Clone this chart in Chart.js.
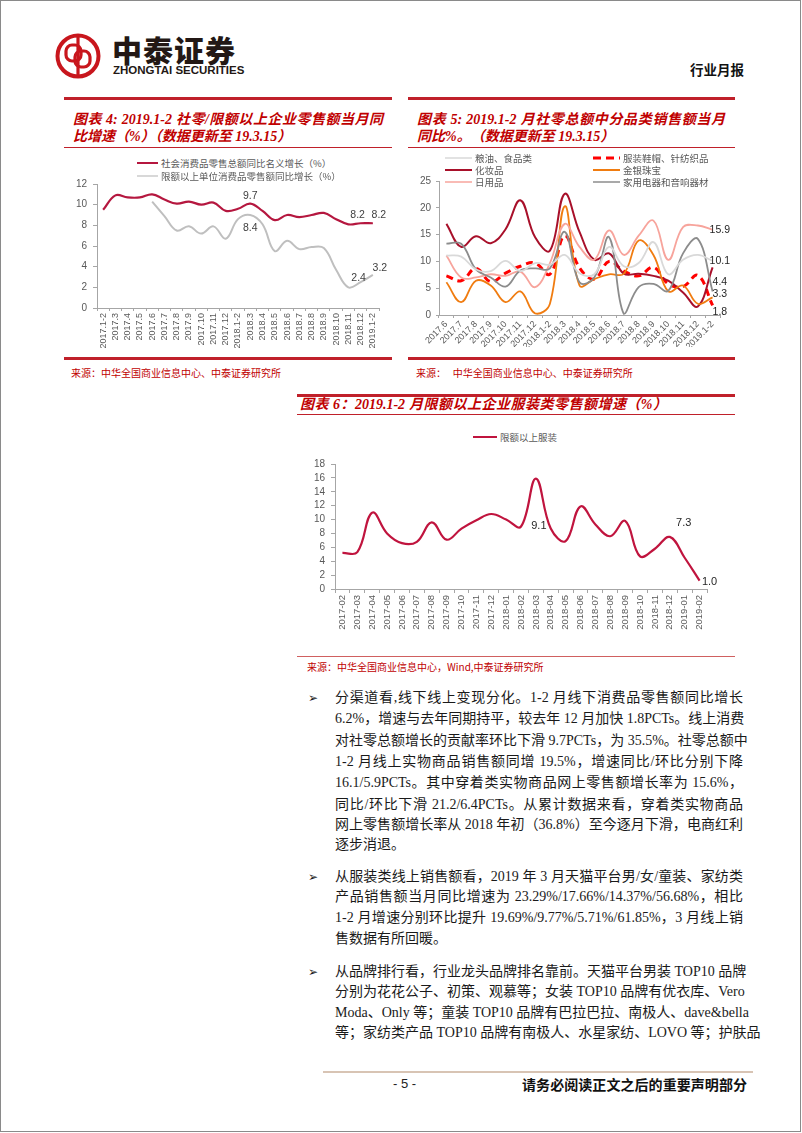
<!DOCTYPE html>
<html>
<head>
<meta charset="utf-8">
<script src="https://cdn.jsdelivr.net/npm/chart.js@4.4.1/dist/chart.umd.min.js"></script>
<style>
body { margin: 0; background: #fff; }
#page { position: relative; width: 802px; height: 1133px; overflow: hidden; background: #fff;
  font-family: "Liberation Serif", "Noto Sans CJK SC", serif; }
.frame { position: absolute; left: 0; top: 0; width: 801px; height: 1132px; box-sizing: border-box; border: 1px solid #8a8a8a; }
.rule { position: absolute; background: #C0202A; }
.title { position: absolute; color: #C00000; font-style: italic; font-weight: bold; font-size: 14px;
  line-height: 18px; height: 18px; text-align: justify; text-align-last: justify; white-space: nowrap; }
.src { position: absolute; color: #C00000; font-size: 10px; line-height: 14px; white-space: nowrap;
  font-family: "Noto Sans CJK SC", sans-serif; }
.leg { position: absolute; height: 14px; display: flex; align-items: center; white-space: nowrap;
  font-family: "Noto Sans CJK SC", sans-serif; font-size: 9.5px; color: #595959; }
.leg svg { margin-right: 3px; }
.line { position: absolute; left: 335px; width: 408px; font-size: 14px; line-height: 20px; height: 20px;
  color: #1a1a1a; text-align: justify; text-align-last: justify; white-space: nowrap; }
.line.last { text-align-last: left; }
.bullet { position: absolute; left: 308px; font-family: "DejaVu Sans", sans-serif; font-size: 12px; line-height: 20px; color: #1a1a1a; }
canvas { position: absolute; }
</style>
</head>
<body>
<div id="page">
  <div class="frame"></div>

  <!-- header -->
  <svg style="position:absolute;left:54px;top:32px" width="50" height="50" viewBox="0 0 50 50">
    <circle cx="24" cy="24" r="20.5" fill="none" stroke="#C8161D" stroke-width="4"/>
    <rect x="12" y="13" width="15" height="16" rx="6" fill="none" stroke="#C8161D" stroke-width="3.2"/>
    <rect x="21" y="19" width="15" height="16" rx="6" fill="none" stroke="#C8161D" stroke-width="3.2"/>
    <line x1="24" y1="5" x2="24" y2="43" stroke="#C8161D" stroke-width="3.2"/>
  </svg>
  <div style="position:absolute;left:112px;top:31px;font-family:'Noto Sans CJK SC';font-weight:900;font-size:30px;line-height:36px;letter-spacing:1px;color:#231815;">中泰证券</div>
  <div style="position:absolute;left:113px;top:64px;font-family:'Liberation Sans Narrow','Liberation Sans';font-weight:bold;font-size:11.5px;line-height:13px;color:#231815;">ZHONGTAI SECURITIES</div>
  <div style="position:absolute;left:690px;top:60px;font-family:'Noto Sans CJK SC';font-weight:bold;font-size:13.5px;line-height:18px;color:#111;">行业月报</div>

  <!-- chart 4 frame -->
  <div class="rule" style="left:64px;top:97px;width:328px;height:3px"></div>
  <div class="title" style="left:73px;top:111px;width:310px">图表 4: 2019.1-2 社零/限额以上企业零售额当月同</div>
  <div class="title" style="left:73px;top:128px;width:217px">比增速（%）（数据更新至 19.3.15）</div>
  <div class="rule" style="left:64px;top:147px;width:328px;height:1px"></div>
  <div class="rule" style="left:64px;top:357px;width:328px;height:3px"></div>
  <div class="src" style="left:71px;top:366px">来源：中华全国商业信息中心、中泰证券研究所</div>

  <!-- chart 5 frame -->
  <div class="rule" style="left:408px;top:97px;width:327px;height:3px"></div>
  <div class="title" style="left:417px;top:111px;width:308px">图表 5: 2019.1-2 月社零总额中分品类销售额当月</div>
  <div class="title" style="left:417px;top:128px;width:186px">同比%。（数据更新至 19.3.15）</div>
  <div class="rule" style="left:408px;top:147px;width:327px;height:1px"></div>
  <div class="rule" style="left:408px;top:357px;width:327px;height:3px"></div>
  <div class="src" style="left:416px;top:366px">来源：&nbsp;&nbsp;&nbsp;中华全国商业信息中心、中泰证券研究所</div>

  <!-- chart 6 frame -->
  <div class="rule" style="left:297px;top:394px;width:438px;height:2.5px"></div>
  <div class="title" style="left:300px;top:396px;width:367px">图表 6：2019.1-2 月限额以上企业服装类零售额增速（%）</div>
  <div class="rule" style="left:297px;top:414px;width:438px;height:1px"></div>
  <div class="rule" style="left:297px;top:656px;width:438px;height:1px;background:#D06060"></div>
  <div class="src" style="left:307px;top:660px">来源：中华全国商业信息中心，Wind,中泰证券研究所</div>

  <canvas id="c4" width="328" height="178" style="left:64px;top:172px"></canvas>
  <canvas id="c5" width="327" height="177" style="left:408px;top:170px"></canvas>
  <canvas id="c6" width="438" height="183" style="left:297px;top:452px"></canvas>

  <div id="legends"></div>

  <!-- body text -->
  <div class="bullet" style="top:688px">➢</div>
  <div class="line" style="top:688px">分渠道看,线下线上变现分化。1-2 月线下消费品零售额同比增长</div>
  <div class="line" style="top:709px">6.2%，增速与去年同期持平，较去年 12 月加快 1.8PCTs。线上消费</div>
  <div class="line" style="top:731px">对社零总额增长的贡献率环比下滑 9.7PCTs，为 35.5%。社零总额中</div>
  <div class="line" style="top:752px">1-2 月线上实物商品销售额同增 19.5%，增速同比/环比分别下降</div>
  <div class="line" style="top:773px">16.1/5.9PCTs。其中穿着类实物商品网上零售额增长率为 15.6%，</div>
  <div class="line" style="top:795px">同比/环比下滑 21.2/6.4PCTs。从累计数据来看，穿着类实物商品</div>
  <div class="line" style="top:815px">网上零售额增长率从 2018 年初（36.8%）至今逐月下滑，电商红利</div>
  <div class="line last" style="top:835px">逐步消退。</div>

  <div class="bullet" style="top:867px">➢</div>
  <div class="line" style="top:867px">从服装类线上销售额看，2019 年 3 月天猫平台男/女/童装、家纺类</div>
  <div class="line" style="top:887px">产品销售额当月同比增速为 23.29%/17.66%/14.37%/56.68%，相比</div>
  <div class="line" style="top:908px">1-2 月增速分别环比提升 19.69%/9.77%/5.71%/61.85%，3 月线上销</div>
  <div class="line last" style="top:929px">售数据有所回暖。</div>

  <div class="bullet" style="top:962px">➢</div>
  <div class="line" style="top:962px">从品牌排行看，行业龙头品牌排名靠前。天猫平台男装 TOP10 品牌</div>
  <div class="line" style="top:982px">分别为花花公子、初策、观慕等；女装 TOP10 品牌有优衣库、Vero</div>
  <div class="line" style="top:1003px">Moda、Only 等；童装 TOP10 品牌有巴拉巴拉、南极人、dave&amp;bella</div>
  <div class="line" style="top:1023px">等；家纺类产品 TOP10 品牌有南极人、水星家纺、LOVO 等；护肤品</div>

  <!-- footer -->
  <div style="position:absolute;left:323px;top:1071px;width:430px;height:1.5px;background:#D8C4B4"></div>
  <div style="position:absolute;left:393px;top:1076px;font-family:'Liberation Sans';font-size:13px;line-height:16px;color:#222">- 5 -</div>
  <div style="position:absolute;left:522px;top:1075px;width:225px;font-family:'Noto Sans CJK SC';font-weight:bold;font-size:14px;line-height:18px;color:#111;text-align:justify;text-align-last:justify;white-space:nowrap">请务必阅读正文之后的重要声明部分</div>
</div>

<script>
Chart.defaults.font.family = "'Liberation Sans', Arial, sans-serif";
Chart.defaults.animation = false;

// ---- 图表4 data ----
const c4Labels = ['2017.1-2','2017.3','2017.4','2017.5','2017.6','2017.7','2017.8','2017.9','2017.10','2017.11','2017.12',
  '2018.1-2','2018.3','2018.4','2018.5','2018.6','2018.7','2018.8','2018.9','2018.10','2018.11','2018.12','2019.1-2'];
const c4Names = ['社会消费品零售总额同比名义增长（%）', '限额以上单位消费品零售额同比增长（%）'];
const c4Total = [9.5,10.9,10.7,10.7,11.0,10.5,10.1,10.3,10.0,10.2,9.4,9.6,10.1,9.4,8.5,9.0,8.8,9.0,9.2,8.6,8.1,8.2,8.2];
const c4Above = [null,null,null,null,10.3,8.9,7.5,7.9,7.2,7.9,6.7,8.6,9.0,8.1,5.5,6.5,5.7,5.9,5.8,3.7,2.0,2.5,3.2];
const c4TagIdx = [12, 21, 22, 12, 21, 22];
const c4TagText = ['9.7', '8.2', '8.2', '8.4', '2.4', '3.2'];

// ---- 图表5 data ----
const c5Labels = ['2017.6','2017.7','2017.8','2017.9','2017.10','2017.11','2017.12','2018.1-2','2018.3','2018.4',
  '2018.5','2018.6','2018.7','2018.8','2018.9','2018.10','2018.11','2018.12','2019.1-2'];
const c5Names = ['粮油、食品类','服装鞋帽、针纺织品','化妆品','金银珠宝','日用品','家用电器和音响器材'];
const c5Food     = [11.1,10.9,8.5,8.2,10.1,8.2,9.7,9.4,11.2,7.8,7.6,12.7,9.1,9.7,13.6,7.6,10.3,11.2,10.1];
const c5Clothing = [7.3,6.4,8.7,6.2,7.8,9.1,9.7,7.6,14.8,8.8,6.7,10.0,8.2,7.3,8.9,5.8,5.3,7.4,1.8];
const c5Cosmetic = [17.0,12.7,14.7,13.4,16.0,21.4,14.5,12.0,22.6,15.5,10.3,11.5,7.7,7.7,7.3,6.4,4.2,1.6,8.9];
const c5Jewelry  = [6.1,2.4,6.4,5.5,2.4,4.4,0.3,2.1,20.3,5.5,6.7,7.6,7.7,13.9,11.2,4.4,5.5,2.1,3.3];
const c5Daily    = [11.1,7.0,7.0,7.6,7.3,8.1,5.2,9.7,17.0,12.7,10.3,15.8,11.2,14.8,17.6,10.3,16.4,16.7,15.9];
const c5Appliance= [13.3,13.3,8.5,7.0,5.3,8.3,8.7,8.7,15.5,6.1,7.0,14.5,0.2,5.2,5.8,4.5,11.5,14.2,4.4];
const c5TagIdx = [18, 18, 18, 18, 18];
const c5TagText = ['15.9', '10.1', '4.4', '3.3', '1.8'];

// ---- 图表6 data ----
const c6Labels = ['2017-02','2017-03','2017-04','2017-05','2017-06','2017-07','2017-08','2017-09','2017-10','2017-11','2017-12',
  '2018-01','2018-02','2018-03','2018-04','2018-05','2018-06','2018-07','2018-08','2018-09','2018-10','2018-11','2018-12',
  '2019-01','2019-02'];
const c6Name = '限额以上服装';
const c6Values = [5.2,5.3,11.0,8.0,6.6,6.8,9.6,7.1,8.7,9.9,10.8,10.0,9.0,15.9,8.7,6.9,11.9,9.3,7.6,9.8,4.7,5.8,7.5,4.5,1.2];
const c6TagIdx = [13, 23, 24];
const c6TagText = ['9.1', '7.3', '1.0'];

// labels are placed at the height of the number they show, nudged by dx/dy
const valueTags = {
  id: 'valueTags',
  afterDatasetsDraw(chart, args, opts) {
    const ctx = chart.ctx, xs = chart.scales.x, ys = chart.scales.y;
    ctx.save();
    ctx.font = opts.font;
    ctx.fillStyle = opts.color;
    ctx.textBaseline = 'middle';
    ctx.textAlign = opts.align || 'center';
    opts.idx.forEach((i, k) => {
      const x = xs.getPixelForValue(i) + opts.nudge[k][0];
      const y = ys.getPixelForValue(parseFloat(opts.text[k])) + opts.nudge[k][1];
      ctx.fillText(opts.text[k], x, y);
    });
    ctx.restore();
  }
};

function axisX(rot, h, size, tick, pad) {
  return {
    type: 'category', offset: true,
    grid: { drawOnChartArea: false, drawTicks: true, tickLength: tick, color: '#A6A6A6', offset: true },
    border: { color: '#A6A6A6' },
    ticks: { autoSkip: false, minRotation: rot, maxRotation: rot, color: '#595959', font: { size: size }, padding: pad },
    afterFit: s => { s.height = h; }
  };
}
function axisY(max, step, w, size, tick, pad) {
  return {
    min: 0, max: max,
    grid: { drawOnChartArea: false, drawTicks: true, tickLength: tick, color: '#A6A6A6' },
    border: { color: '#A6A6A6' },
    ticks: { stepSize: step, autoSkip: false, color: '#595959', font: { size: size }, padding: pad },
    afterFit: s => { s.width = w; }
  };
}

function lineSet(label, data, color, width, dash) {
  return { label: label, data: data, borderColor: color, backgroundColor: color, borderWidth: width,
    borderDash: dash || [], tension: 0.4, pointRadius: 0, fill: false, spanGaps: false };
}

// legends as page text
const legendBox = document.getElementById('legends');
function legend(x, y, w, text, color, width, dash) {
  const d = document.createElement('div');
  d.className = 'leg';
  d.style.left = x + 'px';
  d.style.top = (y - 7) + 'px';
  d.innerHTML = '<svg width="' + w + '" height="14"><line x1="0" y1="7" x2="' + w + '" y2="7" stroke="' + color +
    '" stroke-width="' + width + '"' + (dash ? ' stroke-dasharray="' + dash + '"' : '') + '/></svg><span>' + text + '</span>';
  legendBox.appendChild(d);
}

// 图表4
const c4Colors = ['#B5173F', '#BFBFBF'];
new Chart(document.getElementById('c4'), {
  type: 'line',
  data: { labels: c4Labels, datasets: [
    lineSet(c4Names[0], c4Total, c4Colors[0], 2.2),
    lineSet(c4Names[1], c4Above, c4Colors[1], 2)
  ]},
  options: {
    responsive: false,
    layout: { padding: { top: 8, right: 13, left: 0, bottom: 0 } },
    plugins: { legend: { display: false }, tooltip: { enabled: false },
      valueTags: { idx: c4TagIdx, text: c4TagText, font: "10.5px 'Liberation Sans'", color: '#404040',
        nudge: [[0,-12],[-3,-8],[6,-8],[0,7],[-2,-5],[7,-7]] } },
    scales: { x: axisX(90, 42, 9, 3, 2), y: axisY(12, 2, 33, 10, 4, 6) }
  },
  plugins: [valueTags]
});
legend(137, 163, 21, c4Names[0], c4Colors[0], 2);
legend(137, 176, 21, c4Names[1], c4Colors[1], 1.2);

// 图表5
const c5Colors = ['#D9D9D9', '#FF0000', '#A8102A', '#F07C10', '#F7A49C', '#8C8C8C'];
new Chart(document.getElementById('c5'), {
  type: 'line',
  data: { labels: c5Labels, datasets: [
    lineSet(c5Names[0], c5Food, c5Colors[0], 1.8),
    lineSet(c5Names[5], c5Appliance, c5Colors[5], 1.8),
    lineSet(c5Names[4], c5Daily, c5Colors[4], 1.8),
    lineSet(c5Names[3], c5Jewelry, c5Colors[3], 1.8),
    lineSet(c5Names[2], c5Cosmetic, c5Colors[2], 2),
    lineSet(c5Names[1], c5Clothing, c5Colors[1], 3, [7, 5])
  ]},
  options: {
    responsive: false,
    layout: { padding: { top: 7.5, right: 15, left: 0, bottom: 0 } },
    plugins: { legend: { display: false }, tooltip: { enabled: false },
      valueTags: { idx: c5TagIdx, text: c5TagText, font: "10.5px 'Liberation Sans'", color: '#262626', align: 'left',
        nudge: [[-3,0],[-3,0],[0,-9],[0,-3],[0,7]] } },
    scales: { x: axisX(45, 32, 9, 3, 1), y: axisY(25, 5, 31, 10, 3, 5) }
  },
  plugins: [valueTags]
});
legend(445, 158, 27, c5Names[0], c5Colors[0], 1.5);
legend(593, 158, 27, c5Names[1], c5Colors[1], 3, '8 5');
legend(445, 170, 27, c5Names[2], c5Colors[2], 2);
legend(593, 170, 27, c5Names[3], c5Colors[3], 2);
legend(445, 182, 27, c5Names[4], c5Colors[4], 1.5);
legend(593, 182, 27, c5Names[5], c5Colors[5], 1.5);

// 图表6
const c6Color = '#C0143E';
new Chart(document.getElementById('c6'), {
  type: 'line',
  data: { labels: c6Labels, datasets: [ lineSet(c6Name, c6Values, c6Color, 2.2) ] },
  options: {
    responsive: false,
    layout: { padding: { top: 8, right: 28, left: 0, bottom: 0 } },
    plugins: { legend: { display: false }, tooltip: { enabled: false },
      valueTags: { idx: c6TagIdx, text: c6TagText, font: "11px 'Liberation Sans'", color: '#262626',
        nudge: [[3,0],[-1,-15],[10,0]] } },
    scales: { x: axisX(90, 46, 9.5, 4, 2), y: axisY(18, 2, 38, 10, 4, 6) }
  },
  plugins: [valueTags]
});
legend(473, 437, 24, c6Name, c6Color, 2);
</script>
</body>
</html>
